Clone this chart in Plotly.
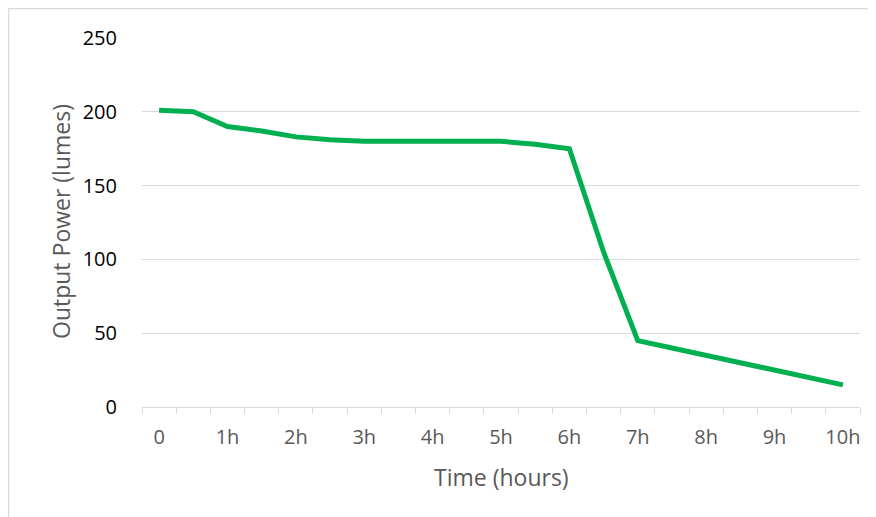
import plotly.graph_objects as go

time_labels = ["0", "", "1h", "", "2h", "", "3h", "", "4h", "", "5h", "",
               "6h", "", "7h", "", "8h", "", "9h", "", "10h"]
output_power = [201, 200, 190, 187, 183, 181, 180, 180, 180, 180, 180, 178,
                175, 105, 45, 40, 35, 30, 25, 20, 15]
y_ticks = [0, 50, 100, 150, 200, 250]

OFF = 8  # page body margin
W, H = 876 - OFF, 517 - OFF
L, R, T, B = 142 - OFF, 860 - OFF, 38 - OFF, 407 - OFF
pw, ph = R - L, B - T

def px(x):
    return (x - OFF - L) / pw

def py(y):
    return (B - (y - OFF)) / ph

xs = list(range(len(output_power)))
label_idx = [i for i, t in enumerate(time_labels) if t]

fig = go.Figure()
fig.add_trace(go.Scatter(
    x=xs, y=output_power, mode="lines",
    line=dict(color="#00B050", width=5),
    hoverinfo="skip", showlegend=False,
))

font = "Open Sans, Liberation Sans, Arial, sans-serif"

fig.update_layout(
    width=W, height=H,
    margin=dict(l=L, r=W - R, t=T, b=H - B, pad=0),
    paper_bgcolor="white", plot_bgcolor="white",
    xaxis=dict(
        range=[-0.5, len(xs) - 0.5],
        tickvals=label_idx,
        ticktext=[time_labels[i] for i in label_idx],
        ticks="", showgrid=False, zeroline=False,
        showline=True, linecolor="#D9D9D9", linewidth=1.3,
        tickfont=dict(family=font, size=20, color="#595959"),
        ticklabelstandoff=12,
        minor=dict(tick0=-0.5, dtick=1, ticks="outside", ticklen=6,
                   tickcolor="#D9D9D9", tickwidth=1.3, showgrid=False),
        fixedrange=True,
    ),
    yaxis=dict(
        range=[0, 250], tickvals=y_ticks,
        showgrid=True, gridcolor="#D9D9D9", gridwidth=1.3,
        zeroline=False, showline=False, ticks="",
        tickfont=dict(family=font, size=20, color="#000000"),
        ticklabelstandoff=24,
        fixedrange=True,
    ),
    annotations=[
        dict(text="Output Power (lumes)", xref="paper", yref="paper",
             x=px(61), y=py(222), textangle=-90, showarrow=False,
             xanchor="center", yanchor="middle",
             font=dict(family=font, size=23, color="#595959")),
        dict(text="Time (hours)", xref="paper", yref="paper",
             x=px(501), y=py(477), showarrow=False,
             xanchor="center", yanchor="middle",
             font=dict(family=font, size=23, color="#595959")),
    ],
    shapes=[
        dict(type="line", xref="paper", yref="paper",
             x0=px(8.5), x1=px(8.5), y0=py(8.5), y1=py(530),
             line=dict(color="#D9D9D9", width=1.5)),
        dict(type="line", xref="paper", yref="paper",
             x0=px(8.5), x1=px(890), y0=py(8.5), y1=py(8.5),
             line=dict(color="#D9D9D9", width=1.5)),
    ],
)

fig.write_html("out.html")
